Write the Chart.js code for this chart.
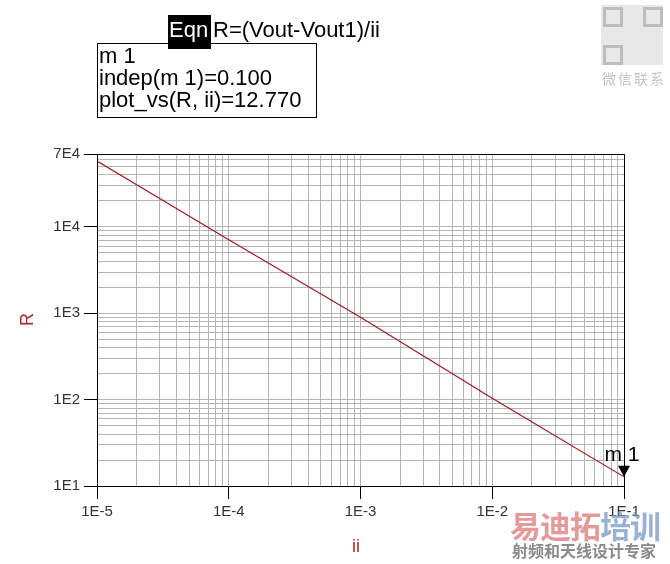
<!DOCTYPE html>
<html>
<head>
<meta charset="utf-8">
<script src="https://cdn.jsdelivr.net/npm/chart.js@4"></script>
<style>
    body { margin: 0; background: #fff; }
    #wrap { position: relative; width: 670px; height: 564px; overflow: hidden; font-family: "Liberation Sans", Arial, sans-serif; }
    #wrap canvas { position: absolute; left: 0; top: 0; }
    .lbl { position: absolute; white-space: nowrap; }
</style>
</head>
<body>
<div id="wrap">
    <canvas id="chart" width="670" height="564"></canvas>

    <!-- equation + marker readout -->
    <div class="lbl" style="left:168px; top:15px; width:43px; height:34px; background:#000;"></div>
    <div class="lbl" style="left:169px; top:17px; font-size:22px; color:#fff;">Eqn</div>
    <div class="lbl" style="left:213px; top:17px; font-size:22px; color:#000;">R=(Vout-Vout1)/ii</div>
    <div class="lbl" style="left:97px; top:43px; width:218px; height:73px; border:1px solid #000;"></div>
    <div class="lbl" style="left:99px; top:45px; font-size:22px; line-height:22px; color:#000;">
        m 1<br>indep(m 1)=0.100<br>plot_vs(R, ii)=12.770
    </div>

    <!-- axis titles -->
    <div class="lbl" style="left:21px; top:309px; font-size:18px; color:#b0282a; transform:rotate(-90deg);">R</div>
    <div class="lbl" style="left:352px; top:536px; font-size:18px; color:#b0282a;">ii</div>

    <!-- watermarks -->
    <div class="lbl" style="left:601px; top:5px; width:62px; height:60px; background:#e2e2e2; opacity:0.8;"></div>
    <div class="lbl" style="left:603px; top:7px; width:14px; height:14px; border:3px solid #bdbdbd;"></div>
    <div class="lbl" style="left:643px; top:7px; width:14px; height:14px; border:3px solid #bdbdbd;"></div>
    <div class="lbl" style="left:603px; top:45px; width:14px; height:14px; border:3px solid #bdbdbd;"></div>
    <div class="lbl" style="left:602px; top:68px; font-size:14px; letter-spacing:2px; color:#c4c4c4; font-family:'Noto Sans CJK SC';">微信联系</div>
    <div class="lbl" style="left:510px; top:502px; font-size:31px; font-weight:bold; font-family:'Noto Sans CJK SC'; letter-spacing:-1px;"><span style="color:rgba(220,120,120,0.75);">易迪拓</span><span style="color:rgba(120,150,200,0.75);">培训</span></div>
    <div class="lbl" style="left:512px; top:538px; font-size:16px; font-weight:bold; color:#8a8a8a; font-family:'Noto Sans CJK SC';">射频和天线设计专家</div>
</div>

<script>
// data
const iiValues = [1e-5, 1e-4, 1e-3, 1e-2, 1e-1];
const rValues = [5.8e4, 7.1e3, 900, 104, 12.77];

// tick labels
const xTickValues = [1e-5, 1e-4, 1e-3, 1e-2, 1e-1];
const xTickLabels = ['1E-5', '1E-4', '1E-3', '1E-2', '1E-1'];
const yTickValues = [10, 100, 1000, 10000, 70000];
const yTickLabels = ['1E1', '1E2', '1E3', '1E4', '7E4'];

const gridGray = '#b4b4b4';

function logTicks(min, max) {
    const ticks = [];
    for (let e = Math.floor(Math.log10(min)); e <= Math.ceil(Math.log10(max)); e++) {
        for (let m = 1; m <= 9; m++) {
            const v = m * Math.pow(10, e);
            if (v >= min * 0.9999 && v <= max * 1.0001) ticks.push({ value: v });
        }
    }
    return ticks;
}

function majorIndex(values, v) {
    return values.findIndex(t => Math.abs(Math.log10(t) - Math.log10(v)) < 1e-6);
}

function axisOpts(min, max, tickValues, tickLabels) {
    return {
        type: 'logarithmic',
        min: min,
        max: max,
        afterBuildTicks: scale => { scale.ticks = logTicks(min, max); },
        ticks: {
            autoSkip: false,
            maxRotation: 0,
            color: '#333',
            padding: 4,
            font: { family: 'Liberation Sans', size: 15 },
            callback: v => {
                const i = majorIndex(tickValues, v);
                return i >= 0 ? tickLabels[i] : '';
            }
        },
        grid: {
            color: ctx => gridGray,
            tickColor: ctx => majorIndex(tickValues, ctx.tick.value) >= 0 ? '#000' : 'rgba(0,0,0,0)',
            tickLength: 13,
            drawOnChartArea: true
        },
        border: { display: true, color: '#000', width: 1 }
    };
}

const frameAndMarker = {
    id: 'frameAndMarker',
    afterDatasetsDraw(chart) {
        const ctx = chart.ctx;
        const a = chart.chartArea;
        ctx.save();
        ctx.strokeStyle = '#000';
        ctx.lineWidth = 1;
        ctx.strokeRect(a.left + 0.5, a.top + 0.5, a.right - a.left, a.bottom - a.top);

        // m1 marker on the last point
        const meta = chart.getDatasetMeta(0);
        const p = meta.data[meta.data.length - 1];
        ctx.fillStyle = '#000';
        ctx.beginPath();
        ctx.moveTo(p.x, p.y);
        ctx.lineTo(p.x - 6, p.y - 11);
        ctx.lineTo(p.x + 6, p.y - 11);
        ctx.closePath();
        ctx.fill();
        ctx.font = '21px "Liberation Sans"';
        ctx.textAlign = 'center';
        ctx.textBaseline = 'bottom';
        ctx.fillText('m 1', p.x - 2, p.y - 11);
        ctx.restore();
    }
};

const xAxis = axisOpts(1e-5, 1e-1, xTickValues, xTickLabels);
xAxis.afterFit = s => { s.height = 564 - 486; };
const yAxis = axisOpts(10, 7e4, yTickValues, yTickLabels);
yAxis.afterFit = s => { s.width = 97; };

new Chart(document.getElementById('chart'), {
    type: 'line',
    data: {
        datasets: [{
            label: 'R',
            data: iiValues.map((x, i) => ({ x: x, y: rValues[i] })),
            borderColor: '#a3151b',
            borderWidth: 1.2,
            pointRadius: 0,
            tension: 0
        }]
    },
    options: {
        responsive: false,
        animation: false,
        layout: { padding: { top: 154, right: 46, left: 0, bottom: 0 } },
        plugins: { legend: { display: false }, tooltip: { enabled: false } },
        scales: { x: xAxis, y: yAxis }
    },
    plugins: [frameAndMarker]
});
</script>
</body>
</html>
